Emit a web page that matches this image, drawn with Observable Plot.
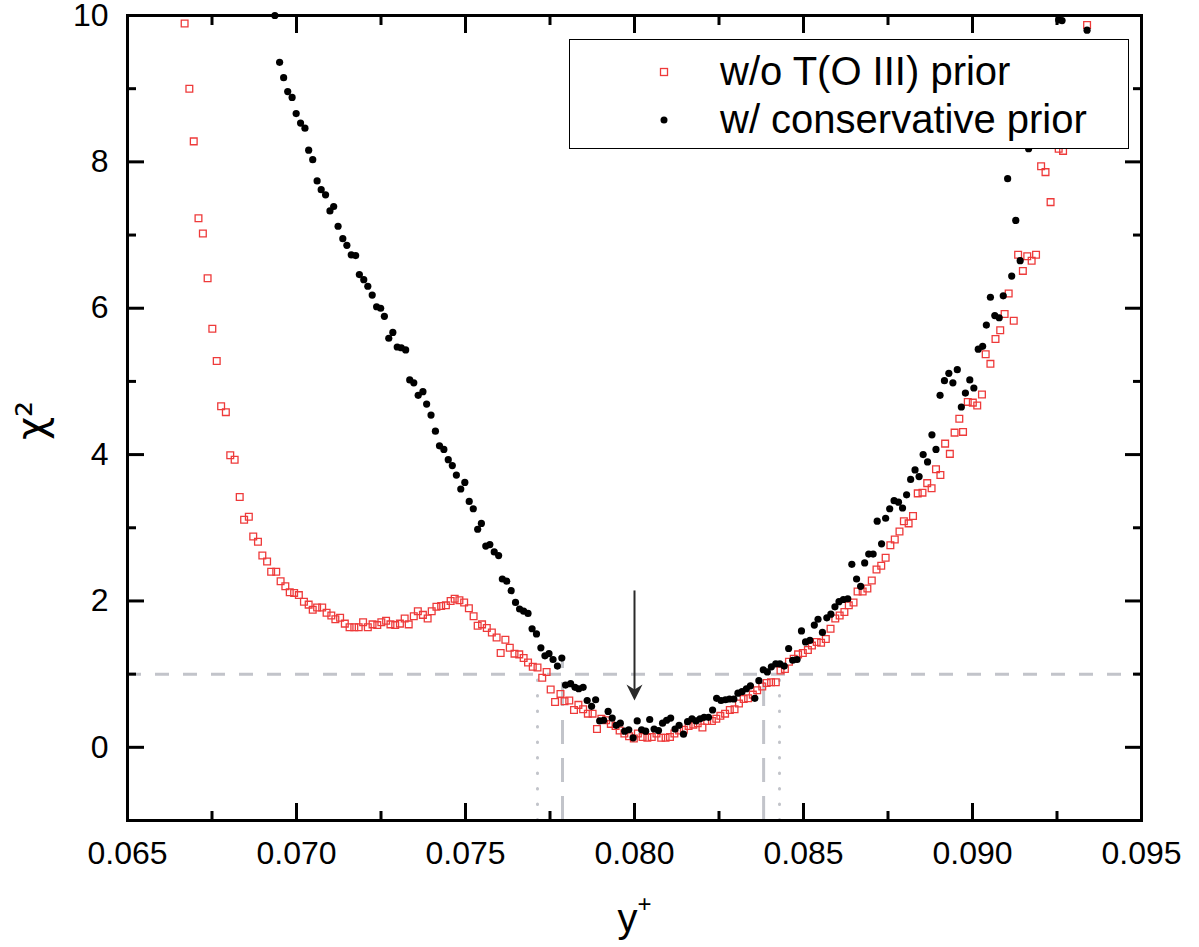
<!DOCTYPE html>
<html><head><meta charset="utf-8">
<script src="https://cdn.jsdelivr.net/npm/d3@7"></script>
<script src="https://cdn.jsdelivr.net/npm/@observablehq/plot@0.6"></script>
<style>
body{margin:0;background:#fff;}
#wrap{position:relative;width:1199px;height:947px;font-family:"Liberation Sans",Arial,sans-serif;}
#legend{position:absolute;left:569px;top:39px;width:560px;height:110px;box-sizing:border-box;border:1.5px solid #000;background:#fff;}
</style></head><body><div id="wrap"></div>
<script>
// ---- data: w/o T(O III) prior (red open squares)
const redX = [0.06669,0.06683,0.06696,0.06710,0.06723,0.06737,0.06751,0.06764,0.06777,0.06791,0.06804,0.06817,0.06832,0.06845,0.06859,0.06872,0.06886,0.06899,0.06913,0.06925,0.06940,0.06953,0.06967,0.06980,0.06993,0.07007,0.07022,0.07036,0.07048,0.07061,0.07076,0.07089,0.07103,0.07115,0.07129,0.07143,0.07157,0.07171,0.07184,0.07197,0.07211,0.07225,0.07239,0.07251,0.07265,0.07278,0.07292,0.07306,0.07320,0.07332,0.07347,0.07359,0.07374,0.07388,0.07400,0.07414,0.07428,0.07442,0.07456,0.07468,0.07482,0.07496,0.07510,0.07524,0.07536,0.07549,0.07563,0.07578,0.07592,0.07604,0.07618,0.07631,0.07645,0.07659,0.07672,0.07685,0.07699,0.07713,0.07727,0.07740,0.07752,0.07765,0.07781,0.07793,0.07807,0.07821,0.07834,0.07848,0.07862,0.07876,0.07889,0.07902,0.07916,0.07930,0.07944,0.07956,0.07970,0.07984,0.07998,0.08010,0.08024,0.08038,0.08051,0.08065,0.08079,0.08092,0.08105,0.08118,0.08132,0.08146,0.08160,0.08174,0.08187,0.08201,0.08215,0.08229,0.08242,0.08254,0.08268,0.08282,0.08296,0.08309,0.08323,0.08336,0.08350,0.08363,0.08378,0.08391,0.08404,0.08418,0.08432,0.08445,0.08457,0.08471,0.08484,0.08498,0.08513,0.08525,0.08539,0.08552,0.08566,0.08580,0.08594,0.08607,0.08621,0.08634,0.08648,0.08660,0.08675,0.08689,0.08702,0.08716,0.08730,0.08743,0.08757,0.08770,0.08784,0.08797,0.08811,0.08824,0.08838,0.08852,0.08866,0.08879,0.08892,0.08905,0.08919,0.08933,0.08947,0.08961,0.08972,0.08986,0.09001,0.09014,0.09028,0.09039,0.09053,0.09068,0.09082,0.09095,0.09107,0.09122,0.09135,0.09149,0.09162,0.09175,0.09188,0.09203,0.09216,0.09231,0.09255,0.09268,0.09339];
const redY = [9.89,9.00,8.28,7.23,7.02,6.41,5.72,5.28,4.66,4.58,3.99,3.93,3.42,3.11,3.15,2.88,2.81,2.62,2.54,2.40,2.40,2.27,2.20,2.12,2.11,2.08,1.99,1.95,1.88,1.91,1.91,1.84,1.80,1.75,1.77,1.69,1.64,1.64,1.64,1.71,1.64,1.68,1.67,1.71,1.73,1.68,1.67,1.69,1.76,1.68,1.79,1.86,1.81,1.76,1.86,1.92,1.93,1.94,2.00,2.03,2.01,1.98,1.90,1.79,1.66,1.68,1.63,1.57,1.50,1.29,1.47,1.36,1.28,1.27,1.22,1.16,1.10,1.09,0.95,1.03,0.79,0.62,0.73,0.63,0.64,0.51,0.58,0.52,0.46,0.46,0.25,0.39,0.37,0.32,0.29,0.23,0.19,0.15,0.12,0.19,0.14,0.13,0.14,0.19,0.13,0.13,0.14,0.19,0.23,0.24,0.29,0.31,0.33,0.27,0.36,0.36,0.39,0.43,0.46,0.51,0.52,0.60,0.66,0.67,0.72,0.78,0.83,0.88,0.89,0.89,1.05,1.07,1.17,1.21,1.27,1.29,1.33,1.39,1.44,1.43,1.48,1.62,1.76,1.80,1.85,1.94,1.98,2.13,2.13,2.17,2.28,2.43,2.48,2.59,2.76,2.84,2.95,3.09,3.06,3.16,3.47,3.48,3.61,3.54,3.80,3.72,4.15,4.01,4.30,4.49,4.31,4.72,4.71,4.67,4.82,5.37,5.24,5.58,5.70,5.92,6.20,5.83,6.73,6.51,6.71,6.65,6.73,7.94,7.86,7.45,8.18,8.15,9.87];

// ---- data: w/ conservative prior (black dots)
const blackX = [0.06936,0.06950,0.06962,0.06974,0.06987,0.06999,0.07012,0.07025,0.07036,0.07048,0.07061,0.07073,0.07086,0.07099,0.07110,0.07123,0.07137,0.07149,0.07162,0.07175,0.07186,0.07199,0.07211,0.07224,0.07237,0.07249,0.07260,0.07273,0.07285,0.07298,0.07310,0.07323,0.07335,0.07347,0.07360,0.07374,0.07385,0.07398,0.07411,0.07423,0.07436,0.07449,0.07461,0.07473,0.07486,0.07498,0.07511,0.07523,0.07536,0.07547,0.07560,0.07572,0.07585,0.07598,0.07609,0.07622,0.07635,0.07648,0.07660,0.07672,0.07685,0.07697,0.07710,0.07723,0.07735,0.07747,0.07759,0.07772,0.07785,0.07796,0.07811,0.07824,0.07835,0.07848,0.07860,0.07873,0.07885,0.07897,0.07909,0.07922,0.07934,0.07946,0.07958,0.07971,0.07983,0.07996,0.08008,0.08021,0.08033,0.08045,0.08058,0.08071,0.08083,0.08095,0.08107,0.08120,0.08132,0.08145,0.08157,0.08170,0.08182,0.08194,0.08206,0.08219,0.08231,0.08243,0.08256,0.08269,0.08281,0.08294,0.08306,0.08318,0.08331,0.08343,0.08356,0.08368,0.08381,0.08393,0.08405,0.08418,0.08430,0.08443,0.08456,0.08468,0.08481,0.08494,0.08506,0.08519,0.08532,0.08543,0.08556,0.08569,0.08581,0.08593,0.08605,0.08618,0.08631,0.08643,0.08657,0.08669,0.08681,0.08693,0.08706,0.08718,0.08731,0.08743,0.08755,0.08768,0.08781,0.08793,0.08805,0.08817,0.08830,0.08842,0.08854,0.08867,0.08880,0.08892,0.08904,0.08917,0.08930,0.08942,0.08955,0.08967,0.08979,0.08992,0.09004,0.09017,0.09030,0.09041,0.09053,0.09066,0.09079,0.09091,0.09104,0.09116,0.09128,0.09141,0.09166,0.09255,0.09265,0.09339];
const blackY = [10.0,9.36,9.15,8.96,8.88,8.66,8.53,8.46,8.16,8.03,7.74,7.62,7.55,7.33,7.39,7.12,6.95,6.86,6.73,6.72,6.46,6.39,6.30,6.18,6.02,6.00,5.89,5.59,5.67,5.47,5.46,5.43,5.02,4.98,4.81,4.86,4.69,4.54,4.32,4.12,4.07,3.93,3.85,3.72,3.53,3.62,3.36,3.26,2.98,3.06,2.75,2.77,2.67,2.62,2.30,2.27,2.14,1.98,1.89,1.86,1.83,1.62,1.55,1.36,1.25,1.28,1.20,1.11,1.22,0.85,0.87,0.82,0.80,0.82,0.64,0.56,0.65,0.36,0.37,0.49,0.40,0.30,0.33,0.22,0.24,0.13,0.36,0.24,0.22,0.38,0.25,0.23,0.33,0.37,0.40,0.25,0.30,0.18,0.35,0.39,0.36,0.39,0.41,0.41,0.51,0.67,0.64,0.65,0.66,0.66,0.74,0.76,0.80,0.84,0.67,0.91,1.06,1.03,1.10,1.14,1.14,1.11,1.35,1.19,1.20,1.59,1.44,1.46,1.67,1.75,1.57,1.77,1.82,1.92,1.99,2.02,2.03,2.50,2.30,2.20,2.52,2.64,2.64,3.09,2.78,3.13,3.26,3.37,3.35,3.27,3.45,3.66,3.79,3.70,4.00,3.90,4.27,4.07,4.81,5.01,5.11,4.98,5.16,4.65,4.84,5.02,4.91,5.44,5.48,5.77,6.15,5.90,5.87,6.17,7.77,6.44,7.20,6.65,8.18,9.94,9.93,9.80];

// ---- reference lines and annotation
const levelY = [1];
const dashedX = [0.07787, 0.08382];
const dashedTop = [1.22, 1.06];
const dottedX = [0.07713, 0.08429];
const dottedTop = [1.05, 1.02];
const arrowX = [0.080];
const arrowFrom = [2.0];
const arrowTo = [0.64];

// ---- ticks
const xMajor = [0.065, 0.070, 0.075, 0.080, 0.085, 0.090, 0.095];
const xMinor = [0.0675, 0.0725, 0.0775, 0.0825, 0.0875, 0.0925];
const yMajor = [0, 2, 4, 6, 8, 10];
const yMinor = [1, 3, 5, 7, 9];

const seriesNames = ["w/o T(O III) prior", "w/ conservative prior"];
const redColor = "#ee3a3a";
const gray = "#c2c4ca";

const red = redX.map((x, i) => ({x, y: redY[i]}));
const black = blackX.map((x, i) => ({x, y: blackY[i]}));
const dashed = dashedX.map((x, i) => ({x, top: dashedTop[i]}));
const dotted = dottedX.map((x, i) => ({x, top: dottedTop[i]}));
const arrow = arrowX.map((x, i) => ({x, from: arrowFrom[i], to: arrowTo[i]}));

const arrowHead = {
  draw(ctx) {
    ctx.moveTo(0, 0);
    ctx.lineTo(-8, -16);
    ctx.lineTo(0, -11);
    ctx.lineTo(8, -16);
    ctx.closePath();
  }
};

const font = '"Liberation Sans", Arial, sans-serif';

const chart = Plot.plot({
  width: 1199,
  height: 947,
  marginLeft: 127,
  marginRight: 58,
  marginTop: 15,
  marginBottom: 127,
  style: {fontFamily: font, background: "#fff", color: "#000", overflow: "visible"},
  x: {domain: [0.065, 0.095]},
  y: {domain: [-1, 10]},
  marks: [
    Plot.ruleY(levelY, {stroke: gray, strokeWidth: 3, strokeDasharray: "14,14"}),
    Plot.ruleX(dashed, {x: "x", y1: -1, y2: "top", stroke: gray, strokeWidth: 3, strokeDasharray: "24,14"}),
    Plot.ruleX(dotted, {x: "x", y1: -1, y2: "top", stroke: gray, strokeWidth: 3, strokeDasharray: "0.5,15", strokeLinecap: "round"}),
    Plot.dot(red, {x: "x", y: "y", symbol: "square", r: 3.8, stroke: redColor, strokeWidth: 1.3, fill: "none"}),
    Plot.dot(black, {x: "x", y: "y", r: 3.6, fill: "#000", stroke: "none"}),
    Plot.ruleX(arrow, {x: "x", y1: "from", y2: "to", dy: -10, stroke: "#2a2a2a", strokeWidth: 2}),
    Plot.dot(arrow, {x: "x", y: "to", symbol: arrowHead, fill: "#2a2a2a", stroke: "none"}),
    Plot.frame({stroke: "#000", strokeWidth: 3}),
    Plot.axisX(xMajor, {anchor: "bottom", tickSize: -17, strokeWidth: 3, tickPadding: 38, tickFormat: d3.format(".3f"), fontSize: 32, label: null}),
    Plot.axisX(xMinor, {anchor: "bottom", tickSize: -9, strokeWidth: 3, tickFormat: () => "", label: null}),
    Plot.axisX(xMajor, {anchor: "top", tickSize: -17, strokeWidth: 3, tickFormat: () => "", label: null}),
    Plot.axisX(xMinor, {anchor: "top", tickSize: -9, strokeWidth: 3, tickFormat: () => "", label: null}),
    Plot.axisY(yMajor, {anchor: "left", tickSize: -17, strokeWidth: 3, tickPadding: 36, tickFormat: d3.format("d"), fontSize: 32, label: null}),
    Plot.axisY(yMinor, {anchor: "left", tickSize: -9, strokeWidth: 3, tickFormat: () => "", label: null}),
    Plot.axisY(yMajor, {anchor: "right", tickSize: -17, strokeWidth: 3, tickFormat: () => "", label: null}),
    Plot.axisY(yMinor, {anchor: "right", tickSize: -9, strokeWidth: 3, tickFormat: () => "", label: null}),
    Plot.text(["y"], {frameAnchor: "bottom", dx: -7, dy: 111, lineAnchor: "bottom", fontSize: 40, fill: "#000"}),
    Plot.text(["+"], {frameAnchor: "bottom", dx: 10, dy: 84, lineAnchor: "middle", fontSize: 24, fill: "#000"}),
    Plot.text(["χ²"], {frameAnchor: "left", dx: -95, dy: 22, rotate: -90, lineAnchor: "middle", fontSize: 40, fontFamily: "'DejaVu Sans', sans-serif", fill: "#000"})
  ]
});

const wrap = document.getElementById("wrap");
wrap.appendChild(chart);

// legend (drawn on top, white box like the original)
const legend = document.createElement("div");
legend.id = "legend";
legend.innerHTML = `<svg width="560" height="110" style="display:block;font-family:${font.replace(/"/g, "'")}">
  <rect x="90.5" y="28.5" width="7" height="7" fill="none" stroke="${redColor}" stroke-width="1.3"/>
  <circle cx="94" cy="80" r="3.5" fill="#000"/>
  <text x="150" y="45" font-size="40" fill="#000">${seriesNames[0]}</text>
  <text x="150" y="93" font-size="40" fill="#000">${seriesNames[1]}</text>
</svg>`;
wrap.appendChild(legend);
</script>
</body></html>
